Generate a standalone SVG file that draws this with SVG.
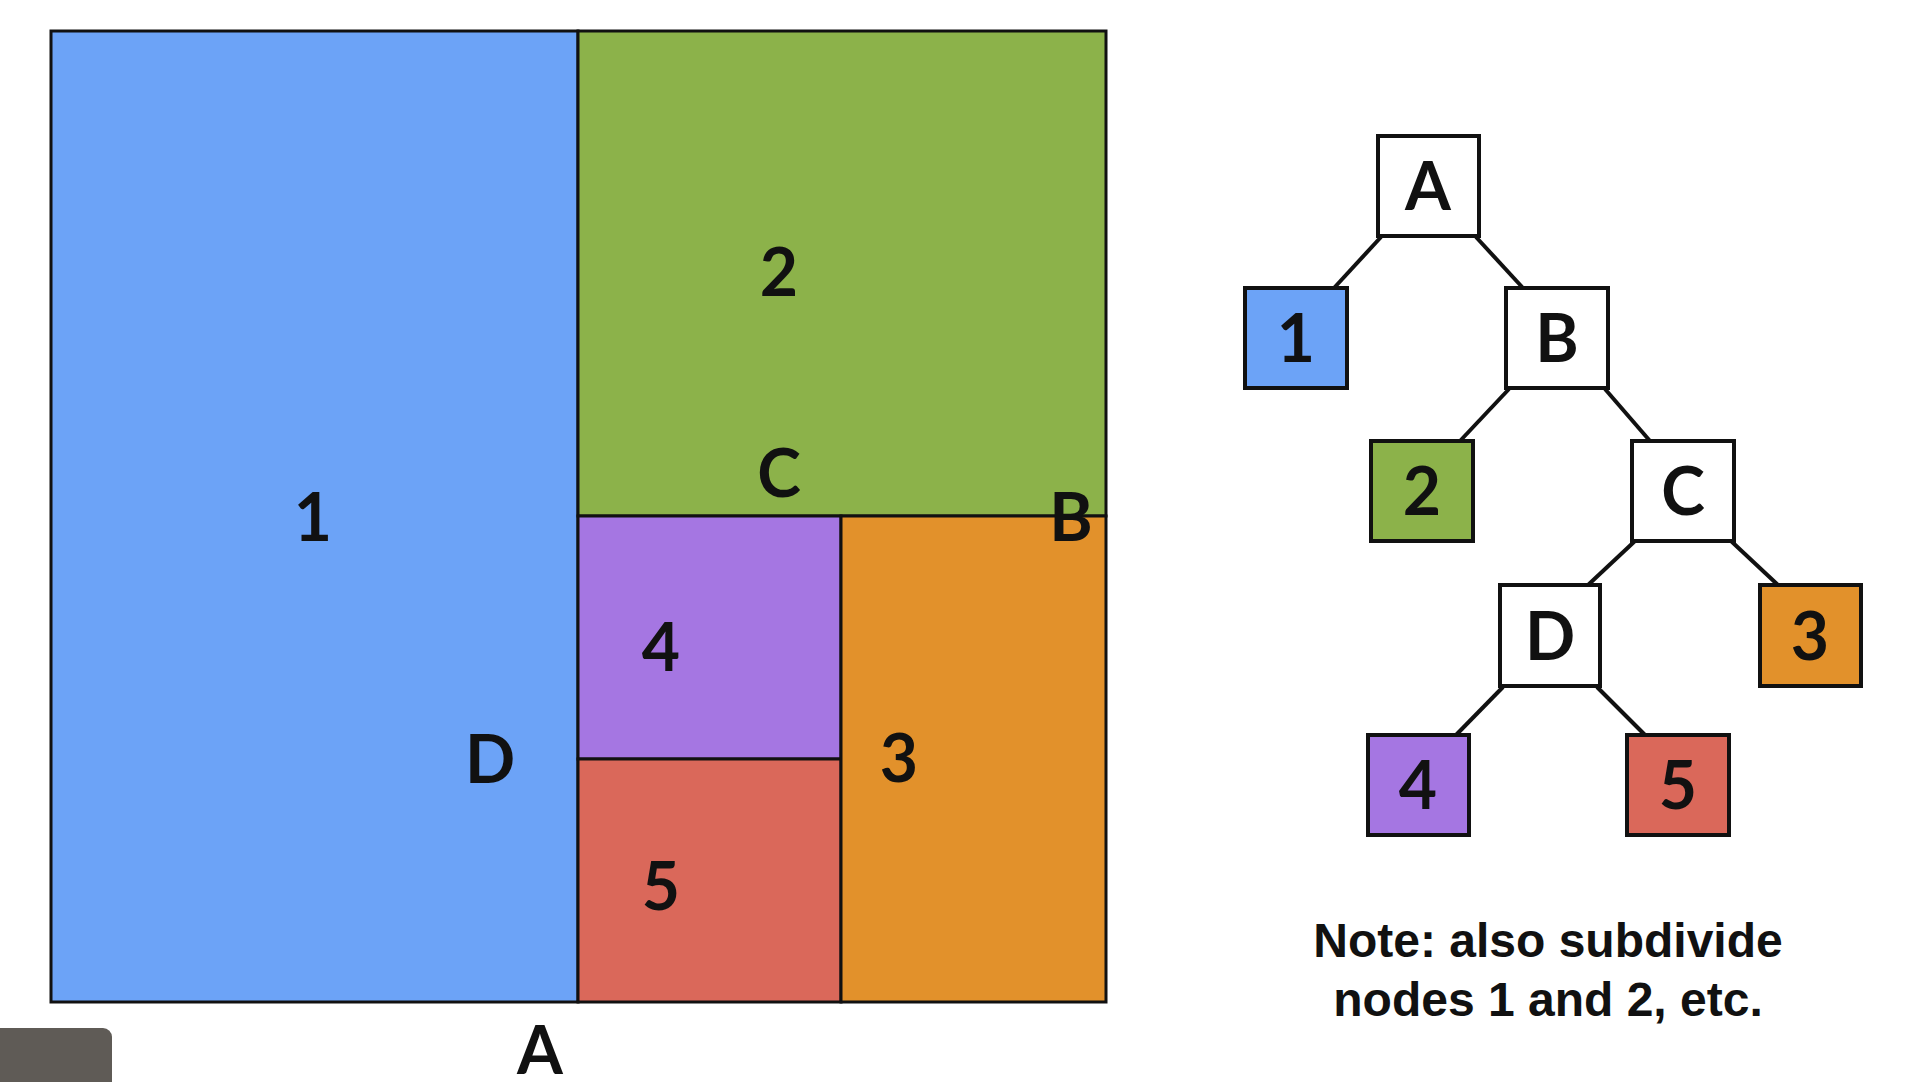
<svg xmlns="http://www.w3.org/2000/svg" width="1920" height="1082" viewBox="0 0 1920 1082">
<style>
.lbl{font-family:Lato,"Noto Sans","DejaVu Sans",sans-serif;font-weight:700;font-size:66px;fill:#111;text-anchor:middle}
.cell{stroke:#111;stroke-width:3}
.box{stroke:#111;stroke-width:4}
.edge{stroke:#111;stroke-width:4;fill:none}
.note{font-family:"Liberation Sans",Arial,sans-serif;font-weight:700;font-size:48px;fill:#111;text-anchor:middle}
</style>
<rect width="1920" height="1082" fill="#ffffff"/>
<g id="treemap">
  <rect class="cell" x="51" y="31" width="527" height="971" fill="#6ca3f7"/>
  <rect class="cell" x="578" y="31" width="528" height="485" fill="#8cb24a"/>
  <rect class="cell" x="578" y="516" width="263" height="243" fill="#a576e2"/>
  <rect class="cell" x="578" y="759" width="263" height="243" fill="#da685a"/>
  <rect class="cell" x="841" y="516" width="265" height="486" fill="#e2912b"/>
  <text class="lbl" x="779" y="296">2</text>
  <text class="lbl" x="313" y="541">1</text>
  <text class="lbl" x="779" y="497">C</text>
  <text class="lbl" x="1071" y="541">B</text>
  <text class="lbl" x="661" y="671">4</text>
  <text class="lbl" x="490" y="783">D</text>
  <text class="lbl" x="899" y="782">3</text>
  <text class="lbl" x="661" y="910">5</text>
  <text class="lbl" x="540" y="1074">A</text>
</g>
<g id="connectors">
  <line class="edge" x1="1381" y1="237" x2="1334" y2="288"/>
  <line class="edge" x1="1476" y1="237" x2="1523" y2="288"/>
  <line class="edge" x1="1509" y1="389" x2="1460" y2="441"/>
  <line class="edge" x1="1605" y1="389" x2="1650" y2="441"/>
  <line class="edge" x1="1635" y1="541" x2="1588" y2="585"/>
  <line class="edge" x1="1731" y1="541" x2="1778" y2="585"/>
  <line class="edge" x1="1503" y1="687" x2="1456" y2="735"/>
  <line class="edge" x1="1597" y1="687" x2="1645" y2="735"/>
</g>
<g id="node-A"><rect class="box" x="1378" y="136" width="101" height="100" fill="#ffffff"/><text class="lbl" x="1428" y="210">A</text></g>
<g id="node-1"><rect class="box" x="1245" y="288" width="102" height="100" fill="#6ca3f7"/><text class="lbl" x="1296" y="362">1</text></g>
<g id="node-B"><rect class="box" x="1506" y="288" width="102" height="100" fill="#ffffff"/><text class="lbl" x="1557" y="362">B</text></g>
<g id="node-2"><rect class="box" x="1371" y="441" width="102" height="100" fill="#8cb24a"/><text class="lbl" x="1422" y="515">2</text></g>
<g id="node-C"><rect class="box" x="1632" y="441" width="102" height="100" fill="#ffffff"/><text class="lbl" x="1683" y="515">C</text></g>
<g id="node-D"><rect class="box" x="1500" y="585" width="100" height="101" fill="#ffffff"/><text class="lbl" x="1550" y="660">D</text></g>
<g id="node-3"><rect class="box" x="1760" y="585" width="101" height="101" fill="#e2912b"/><text class="lbl" x="1810" y="660">3</text></g>
<g id="node-4"><rect class="box" x="1368" y="735" width="101" height="100" fill="#a576e2"/><text class="lbl" x="1418" y="809">4</text></g>
<g id="node-5"><rect class="box" x="1627" y="735" width="102" height="100" fill="#da685a"/><text class="lbl" x="1678" y="809">5</text></g>
<g id="note">
  <text class="note" x="1548" y="957">Note: also subdivide</text>
  <text class="note" x="1548" y="1016">nodes 1 and 2, etc.</text>
</g>
<rect x="-10" y="1028" width="122" height="70" rx="9" fill="#5f5b56"/>
</svg>
